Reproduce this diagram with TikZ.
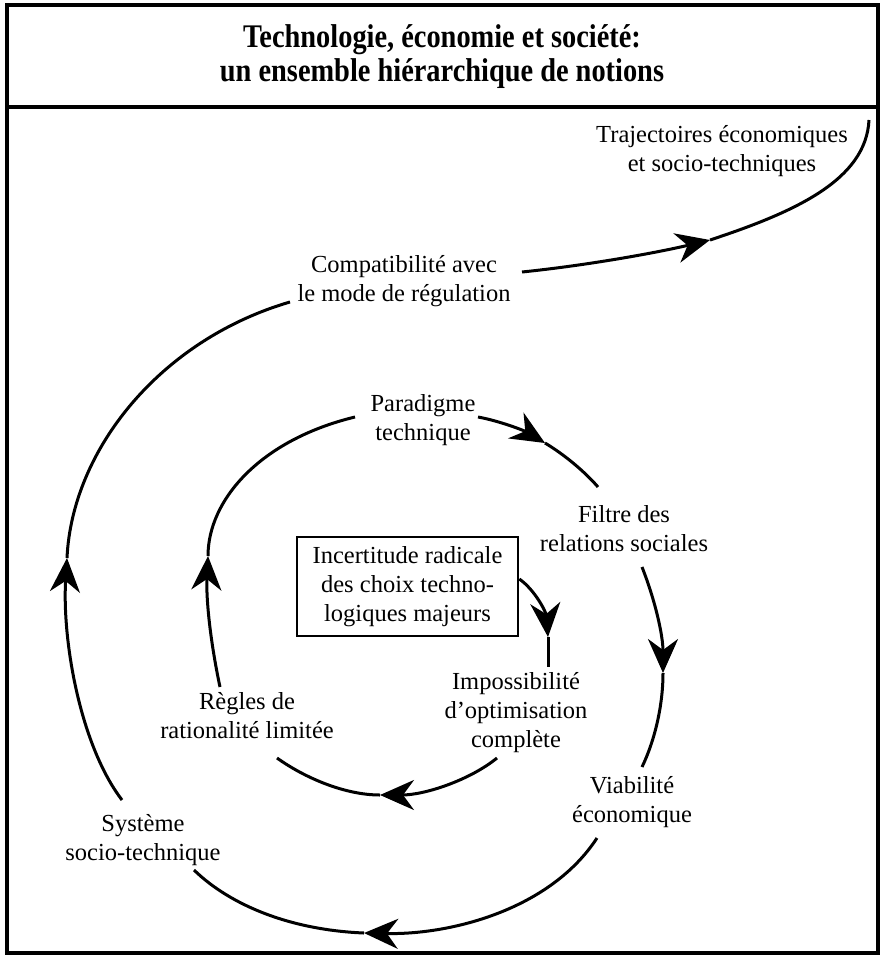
\documentclass[tikz,border=0pt]{standalone}
\usepackage{fontspec}
\setmainfont{Liberation Serif}
\newfontfamily\ttlfont[FakeStretch=0.86]{Liberation Serif}
\usetikzlibrary{arrows.meta}
\begin{document}
\begin{tikzpicture}[x=1pt,y=-1pt,
  lbl/.style={align=center, font=\fontsize{24.5}{29}\selectfont, inner sep=0pt},
  ttl/.style={align=center, font=\ttlfont\bfseries\fontsize{33}{34}\selectfont, inner sep=0pt},
  boxed/.style={lbl, draw, line width=2.6pt, minimum width=221pt, minimum height=99pt},
  arc/.style={line width=3pt},
  tipped/.style={line width=3pt, -{Stealth[length=34pt,width=30pt,inset=11pt]}},
  frame/.style={line width=4pt}]
\useasboundingbox (0,0) rectangle (885,958);
% frame
\draw[frame] (7,5) rectangle (878,953);
\draw[frame] (7,107) -- (878,107);
\node[ttl] (title) at (442,57) {Technologie, économie et société:\\un ensemble hiérarchique de notions};

% labels
\node[lbl] (traj) at (722,151) {Trajectoires économiques\\et socio-techniques};
\node[lbl] (compat) at (404,281) {Compatibilité avec\\le mode de régulation};
\node[lbl] (parad) at (423,420) {Paradigme\\technique};
\node[lbl] (filtre) at (624,529) {Filtre des\\relations sociales};
\node[boxed] (incert) at (407.5,586.5) {Incertitude radicale\\des choix techno-\\logiques majeurs};
\node[lbl] (impos) at (516,713) {Impossibilité\\d’optimisation\\complète};
\node[lbl] (regles) at (247,716) {Règles de\\rationalité limitée};
\node[lbl] (viab) at (632,802) {Viabilité\\économique};
\node[lbl] (syst) at (143,840) {Système\\socio-technique};

% connector end points
\coordinate (a1s) at (522,272);
\coordinate (a1t) at (710,240);
\coordinate (a1e) at (869,120);
\coordinate (a2s) at (122,800);
\coordinate (a2t) at (67,558);
\coordinate (a2e) at (290,302);
\coordinate (a3s) at (597,838);
\coordinate (a3t) at (364,933);
\coordinate (a3e) at (194,870);
\coordinate (a4s) at (642,567);
\coordinate (a4t) at (663,673);
\coordinate (a4e) at (642,767);
\coordinate (a5s) at (478,417);
\coordinate (a5t) at (545,443);
\coordinate (a5e) at (598,487);
\coordinate (a6s) at (220,687);
\coordinate (a6t) at (208,556);
\coordinate (a6e) at (355,417);
\coordinate (a7s) at (497,758);
\coordinate (a7t) at (380,795);
\coordinate (a7e) at (277,758);
\coordinate (a8s) at (incert.east |- 0,579);
\coordinate (a8t) at (548,637);
\coordinate (a8e) at (548,667);

% compat -> traj
\draw[tipped] (a1s) .. controls (590,265) and (660,252) .. (a1t);
\draw[arc] (a1t) .. controls (795,212) and (866,180) .. (a1e);
% syst -> compat
\draw[tipped] (a2s) .. controls (80,745) and (62,640) .. (a2t);
\draw[arc] (a2t) .. controls (72,450) and (160,340) .. (a2e);
% viab -> syst
\draw[tipped] (a3s) .. controls (550,910) and (450,935) .. (a3t);
\draw[arc] (a3t) .. controls (290,930) and (230,905) .. (a3e);
% filtre -> viab
\draw[tipped] (a4s) .. controls (655,600) and (663,635) .. (a4t);
\draw[arc] (a4t) .. controls (663,705) and (655,740) .. (a4e);
% parad -> filtre
\draw[tipped] (a5s) .. controls (500,421) and (525,431) .. (a5t);
\draw[arc] (a5t) .. controls (565,455) and (585,472) .. (a5e);
% regles -> parad
\draw[tipped] (a6s) .. controls (210,640) and (206,598) .. (a6t);
\draw[arc] (a6t) .. controls (208,500) and (260,440) .. (a6e);
% impos -> regles
\draw[tipped] (a7s) .. controls (470,780) and (425,795) .. (a7t);
\draw[arc] (a7t) .. controls (345,795) and (305,778) .. (a7e);
% incert -> impos
\draw[tipped] (a8s) .. controls (535,590) and (546,612) .. (a8t);
\draw[arc] (a8t) -- (a8e);
\end{tikzpicture}
\end{document}
